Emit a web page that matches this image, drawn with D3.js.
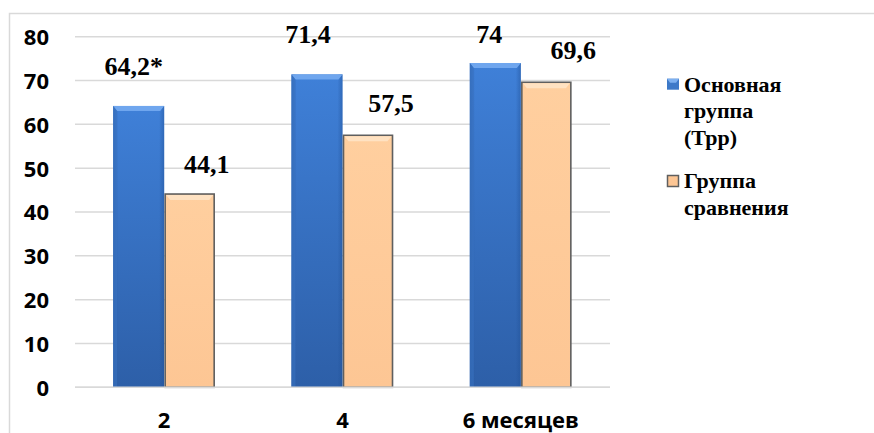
<!DOCTYPE html>
<html>
<head>
<meta charset="utf-8">
<script src="https://cdn.jsdelivr.net/npm/d3@7"></script>
<style>
  html, body { margin: 0; padding: 0; background: #fff; }
  svg { display: block; }
  .serif { font-family: "Liberation Serif", "Tinos", "Noto Serif", "DejaVu Serif", "FreeSerif", "Nimbus Roman", "Nimbus Roman No9 L", "Times New Roman", Times, Georgia, serif; font-weight: bold; }
  .sans { font-family: "Open Sans", "Liberation Sans", sans-serif; font-weight: bold; }
</style>
</head>
<body>
<svg id="chart" width="874" height="433"></svg>
<script>
// ---- data ----
const categories = ["2", "4", "6 месяцев"];
const seriesNames = ["Основная группа (Трр)", "Группа сравнения"];
const mainGroup = [64.2, 71.4, 74];
const compareGroup = [44.1, 57.5, 69.6];
const mainLabels = ["64,2*", "71,4", "74"];
const compareLabels = ["44,1", "57,5", "69,6"];
const yTicks = [0, 10, 20, 30, 40, 50, 60, 70, 80];
const legendLines = [["Основная", "группа", "(Трр)"], ["Группа", "сравнения"]];
// manual label nudges (layout only), [dx, dy] from bar centre / bar top
const mainNudge = [[-5, -31], [-9, -31], [-6, -20]];
const compareNudge = [[17, -21], [23, -23], [27, -23]];

const svg = d3.select("#chart");
const plot = { left: 75, right: 610, top: 36.7, bottom: 387.3 };

// frame
svg.append("rect").attr("x", 9.5).attr("y", 13.5).attr("width", 1000).attr("height", 1000)
  .attr("fill", "none").attr("stroke", "#d9d9d9").attr("stroke-width", 1.5);

const y = d3.scaleLinear().domain([0, 80]).range([plot.bottom, plot.top]);
const x0 = d3.scaleBand().domain(categories).range([plot.left, plot.right]).padding(0);
const x1 = d3.scaleBand().domain([0, 1]).range([0, x0.bandwidth()]).paddingInner(0).paddingOuter(0.748);

// gridlines
svg.append("g").selectAll("line").data(yTicks).join("line")
  .attr("x1", plot.left).attr("x2", plot.right)
  .attr("y1", d => y(d)).attr("y2", d => y(d))
  .attr("stroke", "#d9d9d9").attr("stroke-width", 1.5);

// y axis labels
const yAxis = d3.axisLeft(y).tickValues(yTicks).tickSize(0).tickPadding(0);
const yg = svg.append("g").attr("transform", "translate(49,0)").call(yAxis);
yg.attr("font-family", null);
yg.select(".domain").remove();
yg.selectAll("text").attr("class", "sans")
  .attr("font-size", 22).attr("fill", "#000").attr("dy", "0.36em");

// x axis labels
const xAxis = d3.axisBottom(x0).tickSize(0).tickPadding(0);
const xg = svg.append("g").call(xAxis);
xg.attr("font-family", null);
xg.select(".domain").remove();
xg.selectAll("text").attr("class", "sans")
  .attr("font-size", 22).attr("fill", "#000").attr("y", 428).attr("dy", 0);

// gradients
const defs = svg.append("defs");
const gb = defs.append("linearGradient").attr("id", "gBlue").attr("x1", 0).attr("y1", 0).attr("x2", 0).attr("y2", 1);
gb.append("stop").attr("offset", "0%").attr("stop-color", "#3f80d8");
gb.append("stop").attr("offset", "100%").attr("stop-color", "#2d5fa8");
const gbh = defs.append("linearGradient").attr("id", "gBlueH").attr("x1", 0).attr("y1", 0).attr("x2", 1).attr("y2", 0);
gbh.append("stop").attr("offset", "0%").attr("stop-color", "#1f4f94").attr("stop-opacity", 0.45);
gbh.append("stop").attr("offset", "10%").attr("stop-color", "#1f4f94").attr("stop-opacity", 0);
gbh.append("stop").attr("offset", "90%").attr("stop-color", "#1f4f94").attr("stop-opacity", 0);
gbh.append("stop").attr("offset", "100%").attr("stop-color", "#1f4f94").attr("stop-opacity", 0.45);
const go = defs.append("linearGradient").attr("id", "gOrange").attr("x1", 0).attr("y1", 0).attr("x2", 0).attr("y2", 1);
go.append("stop").attr("offset", "0%").attr("stop-color", "#ffcf9f");
go.append("stop").attr("offset", "100%").attr("stop-color", "#fdc694");

const seriesVals = [mainGroup, compareGroup];
const seriesLabels = [mainLabels, compareLabels];
const nudges = [mainNudge, compareNudge];

const bars = [];
categories.forEach((c, i) => {
  [0, 1].forEach(s => bars.push({ cat: c, s, v: seriesVals[s][i], label: seriesLabels[s][i], n: nudges[s][i] }));
});

const bg = svg.append("g");
bars.forEach(b => {
  const bx = x0(b.cat) + x1(b.s);
  const bw = x1.bandwidth();
  const by = y(b.v);
  const bh = y(0) - by;
  const g = bg.append("g");
  if (b.s === 0) {
    g.append("rect").attr("x", bx).attr("y", by).attr("width", bw).attr("height", bh).attr("fill", "url(#gBlue)");
    g.append("rect").attr("x", bx).attr("y", by).attr("width", bw).attr("height", bh).attr("fill", "url(#gBlueH)");
    g.append("path").attr("d", `M${bx},${by}L${bx + bw},${by}L${bx + bw - 4},${by + 5}L${bx + 4},${by + 5}Z`).attr("fill", "#6fa6ee");
    g.append("path").attr("d", `M${bx},${by}L${bx + 4},${by + 5}L${bx + 4},${by + bh}L${bx},${by + bh}Z`).attr("fill", "#3a73c2").attr("opacity", 0.6);
  } else {
    g.append("rect").attr("x", bx + 1).attr("y", by).attr("width", bw - 2).attr("height", bh).attr("fill", "url(#gOrange)")
      .attr("stroke", "#5f5f5f").attr("stroke-width", 1.6);
    g.append("path").attr("d", `M${bx + 2},${by + 1}L${bx + bw - 2},${by + 1}L${bx + bw - 6},${by + 6}L${bx + 6},${by + 6}Z`).attr("fill", "#ffe2c2");
  }
  svg.append("text").attr("class", "serif").attr("x", bx + bw / 2 + b.n[0]).attr("y", by + b.n[1])
    .attr("text-anchor", "middle").attr("font-size", 26).attr("fill", "#000").text(b.label);
});

// baseline
svg.append("line").attr("x1", plot.left).attr("x2", plot.right).attr("y1", y(0)).attr("y2", y(0))
  .attr("stroke", "#d9d9d9").attr("stroke-width", 1.5);

// legend
const legend = svg.append("g");
const legendTop = [91.7, 188];
legendLines.forEach((lines, i) => {
  const ly = legendTop[i];
  if (i === 0) {
    legend.append("rect").attr("x", 667).attr("y", ly - 13).attr("width", 12).attr("height", 11).attr("fill", "#3d79c8");
    legend.append("path").attr("d", `M667,${ly - 13}L679,${ly - 13}L676,${ly - 9}L670,${ly - 9}Z`).attr("fill", "#7db0f0");
  } else {
    legend.append("rect").attr("x", 667.5).attr("y", ly - 12.5).attr("width", 11).attr("height", 11).attr("fill", "#fdc694")
      .attr("stroke", "#5f5f5f").attr("stroke-width", 1.5);
  }
  const t = legend.append("text").attr("class", "serif").attr("x", 684).attr("y", ly)
    .attr("font-size", 22).attr("fill", "#000");
  lines.forEach((ln, k) => t.append("tspan").attr("x", 684).attr("y", ly + k * 26.5).text(ln));
});
</script>
</body>
</html>
